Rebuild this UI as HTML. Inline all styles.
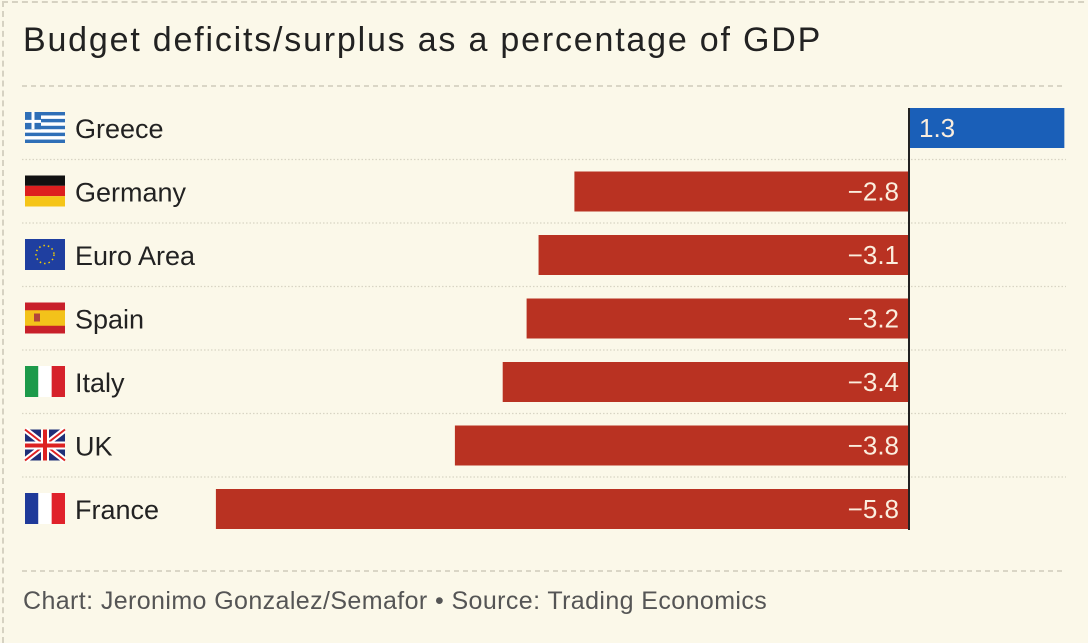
<!DOCTYPE html>
<html><head><meta charset="utf-8"><style>
html,body{margin:0;padding:0;background:#fbf8e9;}
body{width:1088px;height:619px;overflow:hidden;position:relative;font-family:"Liberation Sans",sans-serif;}
#frame{position:absolute;left:2px;top:1px;width:1100px;height:640px;border-left:2px dashed #d6d2c2;border-top:2px dashed #d6d2c2;}
#title{position:absolute;left:23px;top:21px;font-size:34px;letter-spacing:1.8px;color:#222;white-space:nowrap;}
#footer{position:absolute;left:23px;top:587px;font-size:25px;letter-spacing:0.4px;color:#555;white-space:nowrap;}
</style></head><body>
<div id="frame"></div>
<div id="title">Budget deficits/surplus as a percentage of GDP</div>
<svg id="chart" width="1088" height="619" style="position:absolute;left:0;top:0"></svg>
<div id="footer">Chart: Jeronimo Gonzalez/Semafor • Source: Trading Economics</div>
<script>
const countries=["Greece","Germany","Euro Area","Spain","Italy","UK","France"];
const values=[1.3,-2.8,-3.1,-3.2,-3.4,-3.8,-5.8];
const labels=["1.3","−2.8","−3.1","−3.2","−3.4","−3.8","−5.8"];
const NS="http://www.w3.org/2000/svg";
const svg=document.getElementById('chart');
const x0=909,scale=119.5,rowTop=108,pitch=63.5,barH=40;
const xs=v=>x0+v*scale;
const ys=i=>rowTop+i*pitch;
function mk(t,a){const e=document.createElementNS(NS,t);for(const k in a)e.setAttribute(k,a[k]);svg.appendChild(e);return e;}
let l=mk('line',{x1:22,x2:1066,y1:86,y2:86,stroke:'#cfcbbb','stroke-width':1.5,'stroke-dasharray':'5 4'});

l=mk('line',{x1:22,x2:1066,y1:571,y2:571,stroke:'#cfcbbb','stroke-width':1.5,'stroke-dasharray':'5 4'});

function flag(i,g){const x=25,y=ys(i)+4,w=40,h=31;const r=(a)=>{const e=document.createElementNS(NS,'rect');for(const k in a)e.setAttribute(k,a[k]);g.appendChild(e);return e;};
const c=countries[i];
if(c==="Greece"){r({x,y,width:w,height:h,fill:'#fff'});for(let s=0;s<9;s+=2)r({x,y:y+s*h/9,width:w,height:h/9,fill:'#2f6fb7'});r({x,y,width:16,height:h*5/9,fill:'#2f6fb7'});r({x:x+6.5,y,width:3,height:h*5/9,fill:'#fff'});r({x,y:y+h*2/9+1,width:16,height:3,fill:'#fff'});}
else if(c==="Germany"){r({x,y,width:w,height:h/3,fill:'#111'});r({x,y:y+h/3,width:w,height:h/3,fill:'#dd1f1f'});r({x,y:y+2*h/3,width:w,height:h/3,fill:'#f5c518'});}
else if(c==="Euro Area"){r({x,y,width:w,height:h,fill:'#1f3fa0'});const e=document.createElementNS(NS,'circle');e.setAttribute('cx',x+20);e.setAttribute('cy',y+h/2);e.setAttribute('r',9);e.setAttribute('fill','none');e.setAttribute('stroke','#f5d000');e.setAttribute('stroke-width',1.5);e.setAttribute('stroke-dasharray','1.5 3');g.appendChild(e);}
else if(c==="Spain"){r({x,y,width:w,height:h,fill:'#c8202a'});r({x,y:y+h/4,width:w,height:h/2,fill:'#f3c21a'});r({x:x+9,y:y+11,width:6,height:8,fill:'#b0463a'});}
else if(c==="Italy"){r({x,y,width:w/3,height:h,fill:'#1d9a4a'});r({x:x+w/3,y,width:w/3,height:h,fill:'#fff'});r({x:x+2*w/3,y,width:w/3,height:h,fill:'#d6222b'});}
else if(c==="UK"){r({x,y,width:w,height:h,fill:'#1f2f78'});const d=(x1,y1,x2,y2,s,wd)=>{const e=document.createElementNS(NS,'line');e.setAttribute('x1',x1);e.setAttribute('y1',y1);e.setAttribute('x2',x2);e.setAttribute('y2',y2);e.setAttribute('stroke',s);e.setAttribute('stroke-width',wd);g.appendChild(e);};
d(x,y,x+w,y+h,'#fff',6);d(x+w,y,x,y+h,'#fff',6);d(x,y,x+w,y+h,'#d22',2);d(x+w,y,x,y+h,'#d22',2);r({x:x+16,y,width:8,height:h,fill:'#fff'});r({x,y:y+12,width:w,height:8,fill:'#fff'});r({x:x+18,y,width:4,height:h,fill:'#d22'});r({x,y:y+14,width:w,height:4,fill:'#d22'});}
else if(c==="France"){r({x,y,width:w/3,height:h,fill:'#1f3a9a'});r({x:x+w/3,y,width:w/3,height:h,fill:'#fff'});r({x:x+2*w/3,y,width:w/3,height:h,fill:'#e0222b'});}
}
countries.forEach((c,i)=>{
  const y=ys(i);
  if(i>0){const s=mk('line',{x1:22,x2:1066,y1:y-12,y2:y-12,stroke:'#d8d4c4','stroke-width':1.2,'stroke-dasharray':'1.5 2'});
  }
  const g=document.createElementNS(NS,'g');svg.appendChild(g);
  
  
  flag(i,g);
  const t=mk('text',{x:75,y:y+30,'font-size':27,fill:'#222','font-family':'Liberation Sans, sans-serif'});t.textContent=c;
  
  const v=values[i];const xa=Math.min(xs(v),x0),w=Math.abs(xs(v)-x0);
  const b=mk('rect',{x:xa,y:y,width:w,height:barH,fill:v>=0?'#1a5fb8':'#b93222'});
  
  const vt=mk('text',{x:v>=0?x0+10:x0-10,y:y+29,'font-size':26,fill:'#fbeede','text-anchor':v>=0?'start':'end','font-family':'Liberation Sans, sans-serif'});vt.textContent=labels[i];
  
});
const ax=mk('line',{x1:x0,x2:x0,y1:rowTop,y2:ys(6)+barH+1,stroke:'#222','stroke-width':2});

</script>
</body></html>
